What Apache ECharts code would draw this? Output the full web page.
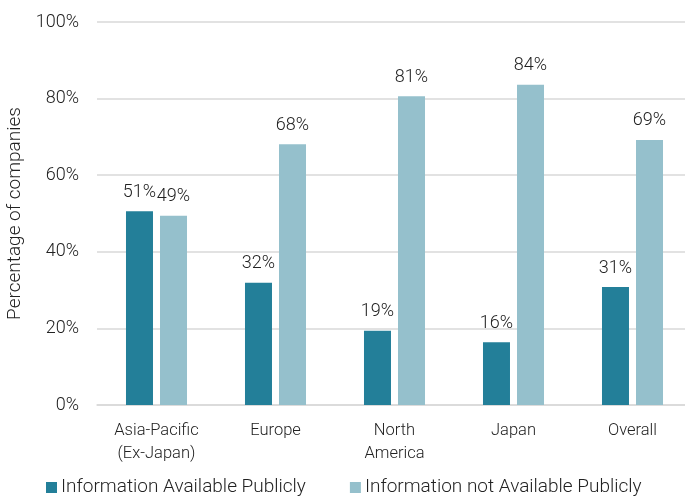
<!DOCTYPE html>
<html>
<head>
<meta charset="utf-8">
<script src="https://cdn.jsdelivr.net/npm/echarts@6/dist/echarts.min.js"></script>
<style>
  html, body { margin: 0; padding: 0; background: #fff; }
  #chart { width: 685px; height: 498px; }
</style>
</head>
<body>
<div id="chart"></div>
<script>
// Regions compared
const regions = ['Asia-Pacific\n(Ex-Japan)', 'Europe', 'North\nAmerica', 'Japan', 'Overall'];

// Share of companies (%) by disclosure status
const availablePublicly = [50.6, 31.9, 19.4, 16.4, 30.8];
const notAvailablePublicly = [49.4, 68.1, 80.6, 83.6, 69.2];

const seriesNames = ['Information Available Publicly', 'Information not Available Publicly'];
const yTicks = [0, 20, 40, 60, 80, 100];

const FONT = 'Roboto, sans-serif';
const WEIGHT = 300;
const TEXT = '#222222';

const chart = echarts.init(document.getElementById('chart'), null, { renderer: 'canvas' });

const labelStyle = {
  show: true,
  position: 'top',
  distance: 10,
  color: TEXT,
  fontFamily: FONT,
  fontWeight: WEIGHT,
  fontSize: 18,
  formatter: p => Math.round(p.value) + '%'
};

chart.setOption({
  animation: false,
  backgroundColor: '#ffffff',
  textStyle: { fontFamily: FONT, color: TEXT, fontWeight: WEIGHT },
  grid: { left: 97, right: -7, top: 22, bottom: 93, containLabel: false, outerBoundsMode: 'none' },
  legend: {
    data: seriesNames,
    left: 46,
    top: 478,
    padding: 0,
    itemWidth: 11,
    itemHeight: 11,
    itemGap: 44,
    icon: 'rect',
    textStyle: { fontFamily: FONT, fontWeight: WEIGHT, fontSize: 19, color: TEXT, padding: [0, 0, 0, -1] }
  },
  xAxis: {
    type: 'category',
    data: regions,
    axisLine: { show: true, lineStyle: { color: '#d9d9d9', width: 1.5 } },
    axisTick: { show: false },
    axisLabel: {
      color: TEXT,
      fontFamily: FONT,
      fontWeight: WEIGHT,
      fontSize: 16.5,
      margin: 14,
      lineHeight: 23,
      interval: 0
    }
  },
  yAxis: {
    type: 'value',
    min: yTicks[0],
    max: yTicks[yTicks.length - 1],
    interval: 20,
    name: 'Percentage of companies',
    nameLocation: 'middle',
    nameGap: 70,
    nameTextStyle: { color: TEXT, fontFamily: FONT, fontWeight: WEIGHT, fontSize: 19 },
    axisLine: { show: false },
    axisTick: { show: false },
    axisLabel: {
      color: TEXT,
      fontFamily: FONT,
      fontWeight: WEIGHT,
      fontSize: 18,
      margin: 18,
      formatter: v => v + '%'
    },
    splitLine: { show: true, lineStyle: { color: '#d9d9d9', width: 1.5 } }
  },
  series: [
    {
      name: seriesNames[0],
      type: 'bar',
      data: availablePublicly,
      barWidth: 27,
      barGap: '26%',
      itemStyle: { color: '#237F99' },
      label: labelStyle
    },
    {
      name: seriesNames[1],
      type: 'bar',
      data: notAvailablePublicly,
      barWidth: 27,
      barGap: '26%',
      itemStyle: { color: '#95C0CC' },
      label: labelStyle
    }
  ]
});
</script>
</body>
</html>
